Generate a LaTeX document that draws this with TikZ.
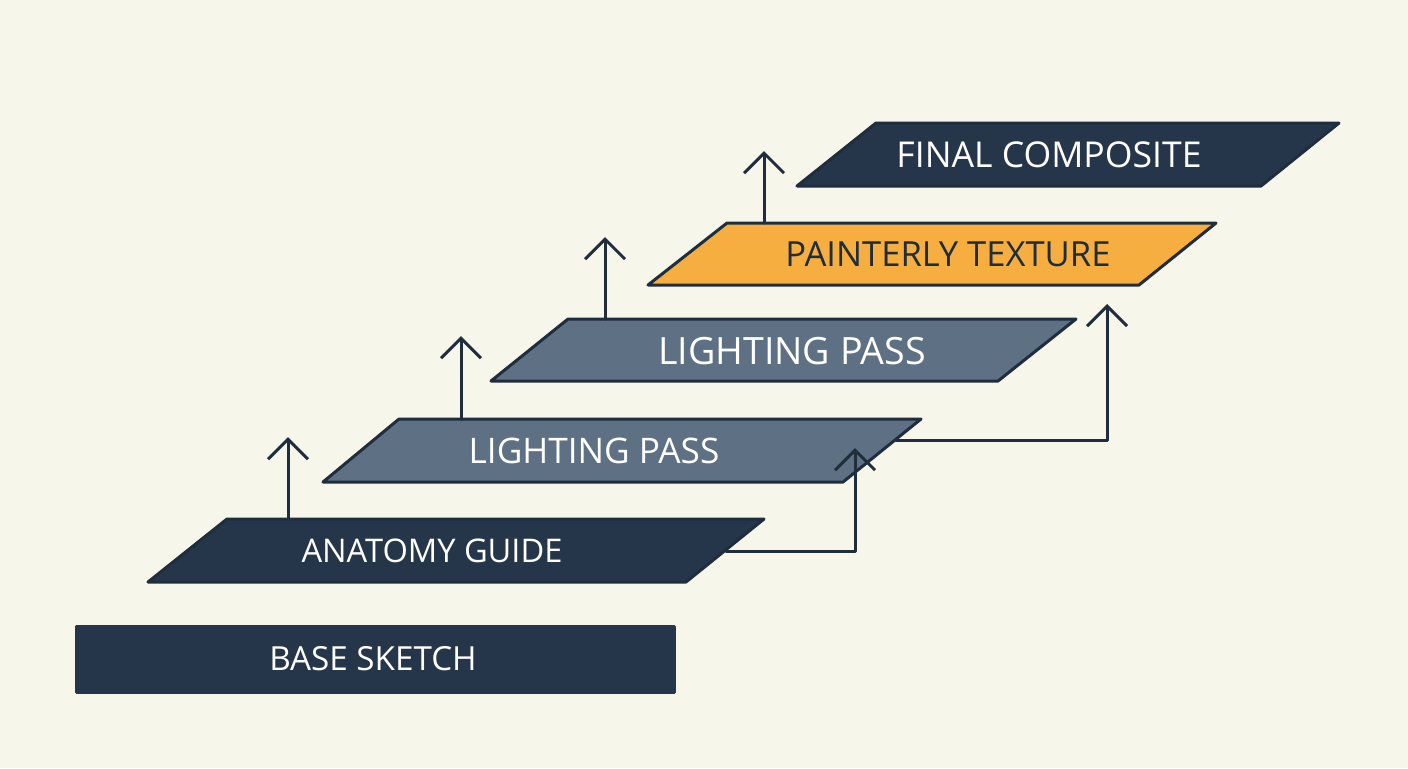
\documentclass[tikz,border=0pt]{standalone}
\usepackage{fontspec}
\setmainfont{Open Sans}
\usetikzlibrary{arrows.meta}
\definecolor{paper}{HTML}{F6F6EB}
\definecolor{navy}{HTML}{26364A}
\definecolor{slate}{HTML}{5E7184}
\definecolor{amber}{HTML}{F5AE3F}
\definecolor{ink}{HTML}{1F2D3C}
\tikzset{
  layer/.style={draw=ink,line width=1.5pt},
  tag/.style={font=\fontsize{#1}{19}\selectfont,inner sep=0pt,text=white},
  tag/.default=16,
  flow/.style={->,draw=ink,line width=1.5pt}
}

\begin{document}
\begin{tikzpicture}[line cap=round,line join=round,>={Straight Barb[length=10pt,width=20pt]},x=0.5pt,y=-0.5pt]
\fill[paper] (0,0) rectangle (1408,768);
\useasboundingbox (0,0) rectangle (1408,768);
%
\draw[layer,fill=navy,draw=navy] (76,626) rectangle (674,692);
\draw[layer,fill=navy] (148,582)--(227,519)--(764,519)--(686,582)--cycle;
\draw[layer,fill=slate] (323,482)--(399,419)--(921,419)--(843,482)--cycle;
\draw[layer,fill=slate] (491,381)--(568,319)--(1076,319)--(998,381)--cycle;
\draw[layer,fill=amber] (648,285)--(727,223)--(1216,223)--(1139,285)--cycle;
\draw[layer,fill=navy] (797,186)--(876,123)--(1339,123)--(1261,186)--cycle;
%
\node[tag=16.6] (base) at (373,659) {BASE SKETCH};
\node[tag=16.3] (anatomy) at (432,551) {ANATOMY GUIDE};
\node[tag=17.6] (light1) at (594,451) {LIGHTING PASS};
\node[tag=18.8] (light2) at (792,351) {LIGHTING PASS};
\node[tag=17.3,text=ink] (paint) at (948,254) {PAINTERLY TEXTURE};
\node[tag=17.8] (final) at (1049,155) {FINAL COMPOSITE};
%
\coordinate (anaTop) at (288,519);
\coordinate (anaUp) at (288,437);
\coordinate (li1Top) at (461,419);
\coordinate (li1Up) at (461,336);
\coordinate (li2Top) at (605,319);
\coordinate (li2Up) at (605,237);
\coordinate (paTop) at (764,223);
\coordinate (paUp) at (764,151);
\coordinate (anaSide) at (726,551);
\coordinate (li1Hit) at (855,448);
\coordinate (li1Side) at (896,440);
\coordinate (paHit) at (1107,304);
%
\draw[flow] (anaTop)--(anaUp);
\draw[flow] (li1Top)--(li1Up);
\draw[flow] (li2Top)--(li2Up);
\draw[flow] (paTop)--(paUp);
\draw[flow] (anaSide)-|(li1Hit);
\draw[flow] (li1Side)-|(paHit);
\end{tikzpicture}
\end{document}
